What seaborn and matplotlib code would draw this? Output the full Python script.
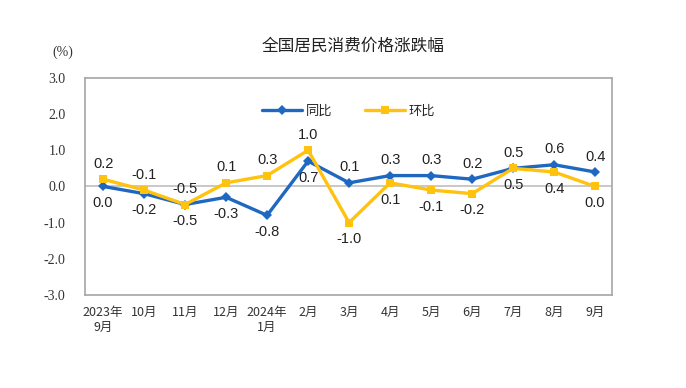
import pandas as pd
import matplotlib
matplotlib.use('Agg')
import matplotlib.pyplot as plt
import seaborn as sns

# Data
months = ['2023年\n9月', '10月', '11月', '12月', '2024年\n1月', '2月', '3月',
          '4月', '5月', '6月', '7月', '8月', '9月']
yoy = [0.0, -0.2, -0.5, -0.3, -0.8, 0.7, 0.1, 0.3, 0.3, 0.2, 0.5, 0.6, 0.4]   # 同比
mom = [0.2, -0.1, -0.5, 0.1, 0.3, 1.0, -1.0, 0.1, -0.1, -0.2, 0.5, 0.4, 0.0]  # 环比

blue = '#1F68C1'
yellow = '#FFC20E'

df = pd.DataFrame({
    'x': list(range(len(months))) * 2,
    'value': yoy + mom,
    'series': ['同比'] * len(months) + ['环比'] * len(months),
})

sns.set_theme(style='white')
plt.rcParams['font.family'] = ['Noto Sans CJK SC', 'DejaVu Sans']

fig = plt.figure(figsize=(6.86, 3.88), dpi=100)
ax = fig.add_axes([0.124, 0.240, 0.768, 0.559])

sns.lineplot(data=df, x='x', y='value', hue='series', style='series',
             palette={'同比': blue, '环比': yellow},
             markers={'同比': 'D', '环比': 's'}, dashes=False,
             linewidth=2.4, markersize=5.5, markeredgewidth=0, ax=ax)

ax.axhline(0, color='#BFBFBF', linewidth=1.2, zorder=0)

ax.set_xlim(-0.44, 12.41)
ax.set_ylim(-3.0, 3.0)
ax.set_yticks([-3, -2, -1, 0, 1, 2, 3])
ax.set_yticklabels([f'{v:.1f}' for v in [-3, -2, -1, 0, 1, 2, 3]],
                   family='Liberation Serif', fontsize=10, color='#333333')
ax.set_xticks(range(len(months)))
ax.set_xticklabels(months, fontsize=9, color='#333333')
ax.tick_params(axis='x', length=0, pad=8)
ax.tick_params(axis='y', length=3, direction='in', color='#BFBFBF', pad=14)
ax.set_xlabel('')
ax.set_ylabel('')
for s in ax.spines.values():
    s.set_color('#A6A6A6')
    s.set_linewidth(1.2)

# value labels: higher one above, lower one below
for i in range(len(months)):
    a, b = yoy[i], mom[i]
    ax.annotate(f'{max(a, b):.1f}', (i, max(a, b)), xytext=(0, 6), textcoords='offset points',
                ha='center', va='bottom', family='Liberation Sans', fontsize=10.5,
                color='#222222')
    ax.annotate(f'{min(a, b):.1f}', (i, min(a, b)), xytext=(0, -7), textcoords='offset points',
                ha='center', va='top', family='Liberation Sans', fontsize=10.5,
                color='#222222')

leg = ax.legend(loc='upper center', bbox_to_anchor=(0.5, 0.93), ncol=2, frameon=False,
                fontsize=9.5, handlelength=3, columnspacing=2.5, handletextpad=0.3)

fig.text(0.514, 0.882, '全国居民消费价格涨跌幅', ha='center', va='center', fontsize=12,
         color='#222222')
fig.text(0.092, 0.865, '(%)', ha='center', va='center', family='Liberation Serif',
         fontsize=10, color='#333333')

fig.savefig('out.png', dpi=100, facecolor='white')
